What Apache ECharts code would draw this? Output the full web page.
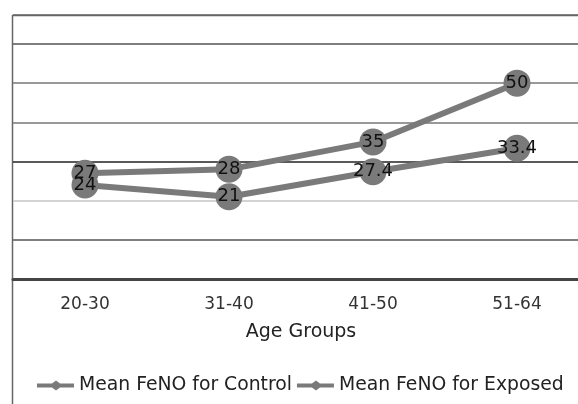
<!DOCTYPE html>
<html>
<head>
<meta charset="utf-8">
<script src="https://cdn.jsdelivr.net/npm/echarts@6/dist/echarts.min.js"></script>
<style>
  html, body { margin: 0; padding: 0; background: #fff; overflow: hidden; }
  /* the plot runs past the right edge of the picture, so the canvas is wider than the window */
  #chart { width: 600px; height: 404px; }
</style>
</head>
<body>
<div id="chart"></div>
<script>
// age bands on the x axis
var ageGroups = ['20-30', '31-40', '41-50', '51-64']
// mean FeNO per band
var controlValues = [24, 21, 27.4, 33.4]
var exposedValues = [27, 28, 35, 50]
var seriesNames = ['Mean FeNO for Control', 'Mean FeNO for Exposed']

var chart = echarts.init(document.getElementById('chart'))
var font = 'DejaVu Sans'
// line with a small diamond, as in the legend of the original
var legendIcon = 'path://M0,3 L15,3 L19,0 L23,3 L37,3 L37,7 L23,7 L19,10 L15,7 L0,7 Z'

function makeSeries(name, values) {
  return {
    name: name,
    type: 'line',
    data: values,
    symbol: 'circle',
    symbolSize: 27,
    itemStyle: { color: '#7a7a7a' },
    lineStyle: { color: '#7a7a7a', width: 6 },
    label: {
      show: true,
      position: 'inside',
      color: '#111',
      fontFamily: font,
      fontSize: 18
    },
    animation: false
  }
}

chart.setOption({
  animation: false,
  grid: { left: 13, top: 15, width: 576, height: 264 },
  graphic: [{
    type: 'rect',
    shape: { x: 12.5, y: 15.5, width: 620, height: 420 },
    style: { fill: 'none', stroke: '#666', lineWidth: 1.5 },
    silent: true
  }],
  xAxis: {
    type: 'category',
    data: ageGroups,
    boundaryGap: true,
    axisLine: { lineStyle: { color: '#444', width: 3 } },
    axisTick: { show: false },
    axisLabel: { color: '#333', fontFamily: font, fontSize: 17, margin: 17 },
    name: 'Age Groups',
    nameLocation: 'middle',
    nameGap: 44,
    nameTextStyle: { color: '#222', fontFamily: font, fontSize: 19 }
  },
  yAxis: {
    type: 'value',
    min: 0,
    max: 67.4,
    interval: 10,
    axisLine: { show: false },
    axisTick: { show: false },
    axisLabel: { show: false },
    splitLine: {
      lineStyle: {
        color: ['#444', '#555', '#c4c4c4', '#222', '#777', '#777', '#555', '#666'],
        width: 1.5
      }
    }
  },
  legend: {
    data: [
      { name: seriesNames[0], icon: legendIcon },
      { name: seriesNames[1], icon: legendIcon }
    ],
    left: 32,
    top: 371,
    itemWidth: 37,
    itemHeight: 10,
    itemGap: 5,
    itemStyle: { color: '#7a7a7a' },
    textStyle: { color: '#222', fontFamily: font, fontSize: 18.8 }
  },
  series: [
    makeSeries(seriesNames[0], controlValues),
    makeSeries(seriesNames[1], exposedValues)
  ]
})
</script>
</body>
</html>
